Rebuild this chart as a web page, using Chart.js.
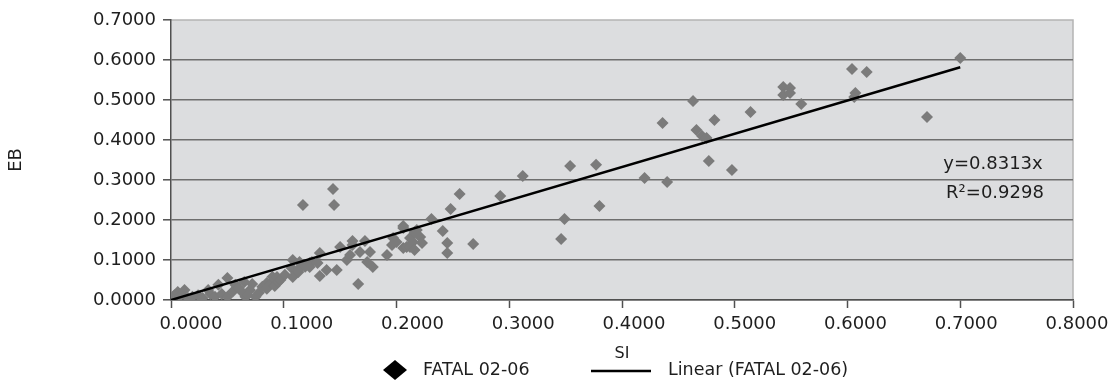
<!DOCTYPE html>
<html>
<head>
<meta charset="utf-8">
<script src="https://cdn.jsdelivr.net/npm/chart.js@4.4.1/dist/chart.umd.min.js"></script>
<style>
  html, body { margin: 0; padding: 0; background: #fff; }
  #wrap { width: 1116px; height: 383px; }
</style>
</head>
<body>
<div id="wrap"><canvas id="chart" width="1116" height="383"></canvas></div>
<script>
// axis ticks
const xTicks = [0, 0.1, 0.2, 0.3, 0.4, 0.5, 0.6, 0.7, 0.8];
const yTicks = [0, 0.1, 0.2, 0.3, 0.4, 0.5, 0.6, 0.7];

// FATAL 02-06 : SI (x) and EB (y)
const si = [
  0.000, 0.003, 0.006, 0.008, 0.012, 0.015, 0.019, 0.024, 0.028, 0.033,
  0.035, 0.039, 0.042, 0.045, 0.050, 0.050, 0.055, 0.057, 0.060, 0.063,
  0.065, 0.066, 0.068, 0.070, 0.072, 0.075, 0.078, 0.081, 0.085, 0.085,
  0.088, 0.090, 0.092, 0.094, 0.095, 0.097, 0.101, 0.107, 0.108, 0.108,
  0.113, 0.114, 0.114, 0.117, 0.119, 0.123, 0.123, 0.125, 0.130, 0.132,
  0.132, 0.138, 0.1437, 0.1446, 0.147, 0.150, 0.156, 0.1588, 0.161, 0.161,
  0.166, 0.1676, 0.172, 0.174, 0.1765, 0.179, 0.1916, 0.196, 0.197, 0.200,
  0.206, 0.206, 0.206, 0.209, 0.212, 0.212, 0.2146, 0.216, 0.216, 0.218,
  0.221, 0.2226, 0.231, 0.241, 0.245, 0.245, 0.248, 0.256, 0.268, 0.292,
  0.312, 0.346, 0.349, 0.354, 0.377, 0.380, 0.420, 0.436, 0.440, 0.463,
  0.466, 0.471, 0.475, 0.477, 0.482, 0.4975, 0.514, 0.543, 0.543, 0.549,
  0.549, 0.559, 0.604, 0.606, 0.607, 0.617, 0.6705, 0.700
];
const eb = [
  0.003, 0.012, 0.020, 0.010, 0.025, 0.005, 0.008, 0.012, 0.005, 0.025,
  0.015, 0.008, 0.038, 0.015, 0.055, 0.008, 0.022, 0.038, 0.030, 0.020,
  0.045, 0.008, 0.013, 0.025, 0.040, 0.008, 0.018, 0.033, 0.028, 0.0425,
  0.040, 0.058, 0.035, 0.0575, 0.045, 0.050, 0.063, 0.080, 0.0575, 0.100,
  0.070, 0.080, 0.095, 0.2375, 0.083, 0.0825, 0.0925, 0.095, 0.0925, 0.1175,
  0.060, 0.075, 0.2775, 0.2375, 0.075, 0.1325, 0.100, 0.1125, 0.1475, 0.1375,
  0.040, 0.120, 0.1475, 0.095, 0.120, 0.0825, 0.1125, 0.1375, 0.155, 0.145,
  0.185, 0.180, 0.130, 0.1325, 0.155, 0.1325, 0.145, 0.170, 0.125, 0.175,
  0.1575, 0.1425, 0.2025, 0.1725, 0.1425, 0.1175, 0.2275, 0.265, 0.140, 0.260,
  0.310, 0.1525, 0.2025, 0.335, 0.338, 0.235, 0.305, 0.4425, 0.295, 0.4975,
  0.425, 0.410, 0.405, 0.3475, 0.450, 0.325, 0.470, 0.5325, 0.5125, 0.530,
  0.5175, 0.490, 0.5775, 0.5075, 0.5175, 0.570, 0.4575, 0.605
];

// Linear (FATAL 02-06)
const trendSlope = 0.8313;
const trendX = [0, 0.7];
const trendText = ['y=0.8313x', 'R\u00B2=0.9298'];

const seriesName = 'FATAL 02-06';
const trendName = 'Linear (FATAL 02-06)';

const FONT = 'DejaVu Sans';
const TEXT = '#1e1e1e';
const GRID = '#6e6e6e';
const AXIS = '#505050';
const PLOT_BG = '#dcdddf';
const MARKER = '#7b7b7b';

Chart.defaults.font.family = FONT;
Chart.defaults.color = TEXT;

const points = si.map((x, i) => ({ x: x, y: eb[i] }));
const trendPoints = trendX.map(x => ({ x: x, y: trendSlope * x }));

function fmt(v) {
  return Number(v).toFixed(4);
}

const plotArea = {
  id: 'plotArea',
  beforeDraw(chart) {
    const { ctx, chartArea: a } = chart;
    ctx.save();
    ctx.fillStyle = PLOT_BG;
    ctx.fillRect(a.left, a.top, a.right - a.left, a.bottom - a.top);
    ctx.strokeStyle = '#b4b4b4';
    ctx.lineWidth = 1.5;
    ctx.beginPath();
    ctx.moveTo(a.left, a.top);
    ctx.lineTo(a.right, a.top);
    ctx.lineTo(a.right, a.bottom);
    ctx.stroke();
    ctx.restore();
  }
};

const notes = {
  id: 'notes',
  afterDraw(chart) {
    const { ctx } = chart;
    ctx.save();
    ctx.fillStyle = TEXT;
    ctx.font = '18px "' + FONT + '"';
    ctx.textAlign = 'center';
    ctx.textBaseline = 'middle';
    ctx.fillText(trendText[0], 993, 164);
    ctx.fillText(trendText[1], 995, 193);

    // legend
    ctx.fillStyle = '#000';
    ctx.beginPath();
    ctx.moveTo(383, 370);
    ctx.lineTo(395, 360);
    ctx.lineTo(407, 370);
    ctx.lineTo(395, 380);
    ctx.closePath();
    ctx.fill();

    ctx.strokeStyle = '#000';
    ctx.lineWidth = 2.5;
    ctx.beginPath();
    ctx.moveTo(591, 371);
    ctx.lineTo(651, 371);
    ctx.stroke();

    ctx.fillStyle = TEXT;
    ctx.font = '17.5px "' + FONT + '"';
    ctx.textAlign = 'left';
    ctx.fillText(seriesName, 423, 370);
    ctx.fillText(trendName, 668, 370);
    ctx.restore();
  }
};

new Chart(
  document.getElementById('chart'),
  {
    type: 'scatter',

    data: {
      datasets: [
        {
          label: seriesName,
          data: points,
          pointStyle: 'rectRot',
          pointRadius: 6,
          pointBackgroundColor: MARKER,
          pointBorderColor: MARKER,
          pointBorderWidth: 0,
          order: 2
        },
        {
          label: trendName,
          data: trendPoints,
          showLine: true,
          borderColor: '#000',
          borderWidth: 2.4,
          pointRadius: 0,
          order: 1
        }
      ]
    },

    options: {
      responsive: false,
      animation: false,
      devicePixelRatio: 1,

      layout: {
        padding: { left: 0, right: 43, top: 20, bottom: 16 }
      },

      plugins: {
        legend: { display: false },
        tooltip: { enabled: false }
      },

      scales: {
        x: {
          type: 'linear',
          position: 'bottom',
          min: 0,
          max: 0.8,
          afterBuildTicks: s => { s.ticks = xTicks.map(v => ({ value: v })); },
          afterFit: s => { s.height = 8; },
          ticks: { display: false },
          grid: {
            drawOnChartArea: false,
            drawTicks: true,
            tickLength: 8,
            tickColor: AXIS,
            tickWidth: 1.5
          },
          border: { display: true, color: AXIS, width: 1.5 }
        },

        // tick labels sit on a slightly narrower spacing than the tick marks
        xLab: {
          type: 'linear',
          position: 'bottom',
          min: -0.01806,
          max: 0.79639,
          afterBuildTicks: s => { s.ticks = xTicks.map(v => ({ value: v })); },
          afterFit: s => { s.height = 59; },
          ticks: {
            autoSkip: false,
            maxRotation: 0,
            padding: 6,
            font: { size: 18 },
            color: TEXT,
            callback: v => fmt(v)
          },
          grid: { display: false, drawTicks: false },
          border: { display: false },
          title: {
            display: true,
            text: 'SI',
            font: { size: 16 },
            color: TEXT,
            padding: { top: 0, bottom: 4 }
          }
        },

        y: {
          type: 'linear',
          min: 0,
          max: 0.7,
          afterBuildTicks: s => { s.ticks = yTicks.map(v => ({ value: v })); },
          afterFit: s => { s.width = 171; },
          ticks: {
            padding: 7,
            font: { size: 18 },
            color: TEXT,
            callback: v => fmt(v)
          },
          grid: {
            color: c => (c.tick && c.tick.value === 0.7) ? 'rgba(0,0,0,0)' : GRID,
            lineWidth: 1.6,
            tickLength: 8,
            tickColor: AXIS,
            tickWidth: 1.5
          },
          border: { display: true, color: AXIS, width: 1.5 },
          title: {
            display: true,
            text: 'EB',
            font: { size: 18 },
            color: TEXT,
            padding: { top: 6, bottom: 0 }
          }
        }
      }
    },

    plugins: [plotArea, notes]
  }
);
</script>
</body>
</html>
